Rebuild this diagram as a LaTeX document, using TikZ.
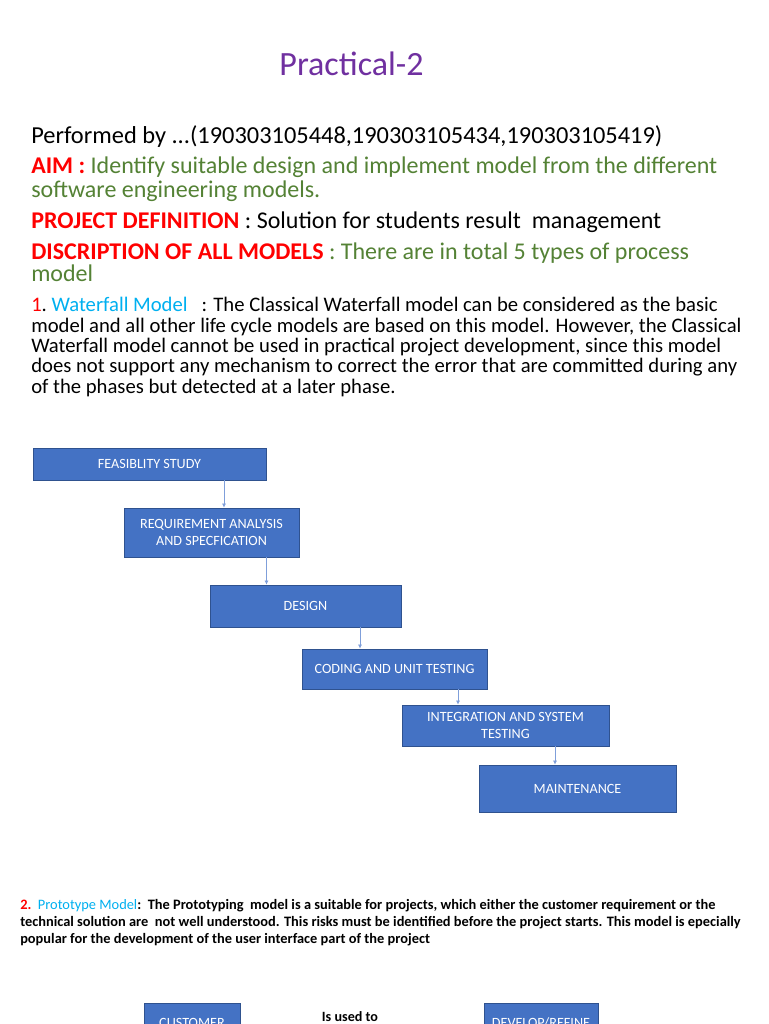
\documentclass[tikz,border=0pt]{standalone}
\usepackage{fontspec}
\setmainfont{Carlito}
\usetikzlibrary{arrows.meta, positioning}
\definecolor{titlePurple}{HTML}{7030A0}
\definecolor{aimGreen}   {HTML}{548235}
\definecolor{keyRed}     {HTML}{FF0000}
\definecolor{modelBlue}  {HTML}{00B0F0}
\definecolor{boxFill}    {HTML}{4472C4}
\definecolor{boxLine}    {HTML}{2F528F}
\definecolor{arrowBlue}  {HTML}{7F9FDA}
\tikzset{
    phase/.style={rectangle, draw=boxLine, fill=boxFill, text=white,
                  font=\fontsize{10.6}{12.5}\selectfont, align=center,
                  inner sep=0pt, line width=0.6pt},
    flow/.style={-{Latex[length=3pt, width=3pt]}, arrowBlue, line width=0.5pt},
    bodytext/.style={anchor=base west, align=left, inner sep=0pt},
}

\begin{document}
\begin{tikzpicture}[x=0.75pt, y=-0.75pt]
    \useasboundingbox (0,0) rectangle (768,1024);
    \clip (0,0) rectangle (768,1024);
    \fill[white] (0,0) rectangle (768,1024);

    % heading and definitions (multi-line texts sit on their last baseline)
    \node[bodytext, anchor=base, text=titlePurple,
          font=\fontsize{25.5}{30}\selectfont] (title) at (351.5,75) {Practical-2};
    \node[bodytext, font=\fontsize{18.3}{18}\selectfont] (perf) at (31,143)
        {Performed by ...(190303105448,190303105434,190303105419)};
    \node[bodytext, text=aimGreen, font=\fontsize{18}{18}\selectfont] (aim) at (31,197)
        {\textcolor{keyRed}{\bfseries AIM :} Identify suitable design and implement model from the different\\
         software engineering models.};
    \node[bodytext, font=\fontsize{18}{18}\selectfont] (projdef) at (31,228)
        {\textcolor{keyRed}{\bfseries PROJECT DEFINITION} : Solution for students result\ \ management};
    \node[bodytext, text=aimGreen, font=\fontsize{18}{16.5}\selectfont] (models) at (31,281)
        {\textcolor{keyRed}{\bfseries DISCRIPTION OF ALL MODELS} : There are in total 5 types of process\\
         model};
    \node[bodytext, font=\fontsize{15.5}{15.2}\selectfont] (waterfall) at (31,393)
        {\textcolor{keyRed}{1}.\ \textcolor{modelBlue}{Waterfall Model}\ \ \ : The Classical Waterfall model can be considered as the basic\\
         model and all other life cycle models are based on this model. However, the Classical\\
         Waterfall model cannot be used in practical project development, since this model\\
         does not support any mechanism to correct the error that are committed during any\\
         of the phases but detected at a later phase.};

    % waterfall phases
    \node[phase, minimum width=0.75*233pt, minimum height=0.75*32pt] (feas) at (149.5,464) {FEASIBLITY STUDY};
    \node[phase, minimum width=0.75*175pt, minimum height=0.75*49pt] (req) at (211.5,532.5) {REQUIREMENT ANALYSIS\\AND SPECFICATION};
    \node[phase, minimum width=0.75*191pt, minimum height=0.75*42pt] (design) at (305.5,606) {DESIGN};
    \node[phase, minimum width=0.75*185pt, minimum height=0.75*40pt] (coding) at (394.5,669) {CODING AND UNIT TESTING};
    \node[phase, minimum width=0.75*207pt, minimum height=0.75*41pt] (integ) at (505.5,725.5) {INTEGRATION AND SYSTEM\\TESTING};
    \node[phase, minimum width=0.75*197pt, minimum height=0.75*47pt] (maint) at (577.5,788.5) {MAINTENANCE};

    \coordinate (a1) at (224,0);
    \coordinate (a2) at (266.5,0);
    \coordinate (a3) at (360,0);
    \coordinate (a4) at (458,0);
    \coordinate (a5) at (555,0);
    \draw[flow] (feas.south -| a1) -- (req.north -| a1);
    \draw[flow] (req.south -| a2) -- (design.north -| a2);
    \draw[flow] (design.south -| a3) -- (coding.north -| a3);
    \draw[flow] (coding.south -| a4) -- (integ.north -| a4);
    \draw[flow] (integ.south -| a5) -- (maint.north -| a5);

    % prototype model
    \node[bodytext, font=\fontsize{10.8}{12.75}\selectfont\bfseries] (proto) at (20,943)
        {\textcolor{keyRed}{2.}\ \ \textcolor{modelBlue}{\mdseries Prototype Model}:\ \ The Prototyping\ \ model is a suitable for projects, which either the customer requirement or the\\
         technical solution are\ \ not well understood. This risks must be identified before the project starts. This model is epecially\\
         popular for the development of the user interface part of the project};

    \node[phase, minimum width=0.75*96pt, minimum height=0.75*40pt] (cust) at (192,1023) {CUSTOMER};
    \node[bodytext, anchor=base, font=\fontsize{10.6}{12}\selectfont\bfseries] (usedto) at (350,1021) {Is used to};
    \node[phase, minimum width=0.75*114pt, minimum height=0.75*40pt] (devel) at (541,1023) {DEVELOP/REFINE};
\end{tikzpicture}
\end{document}
